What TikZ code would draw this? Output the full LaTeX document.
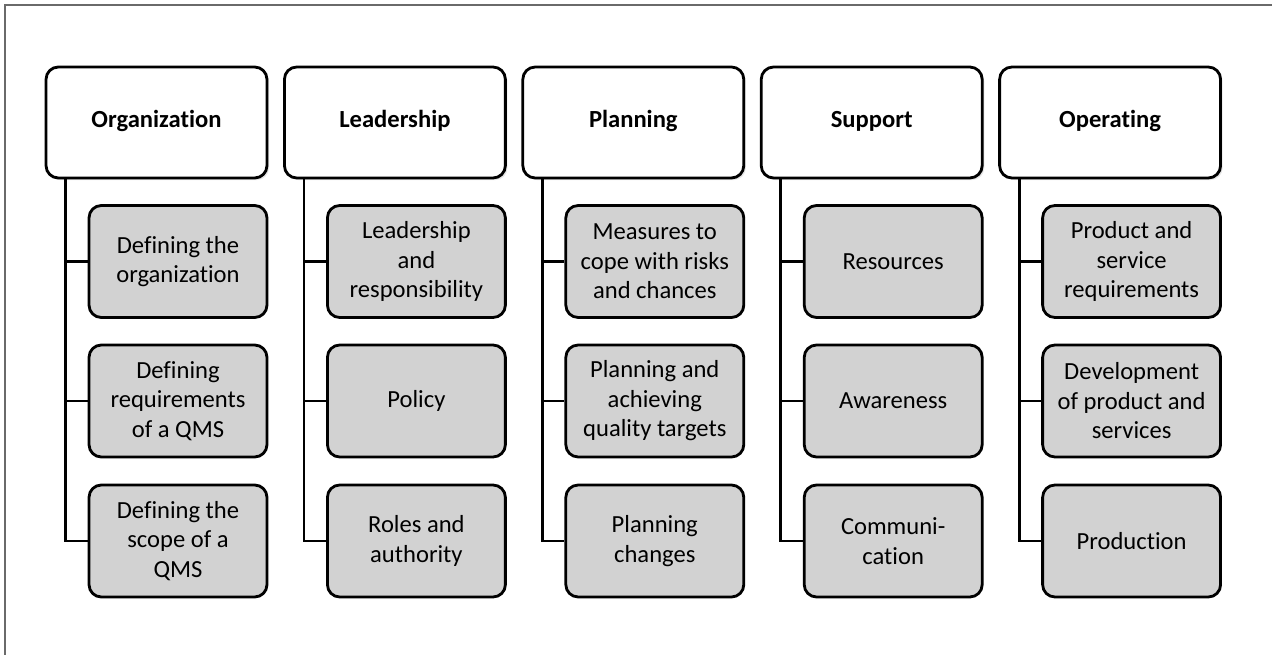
\documentclass[tikz,border=0pt]{standalone}
\usepackage{fontspec}
\setmainfont{Carlito}[Ligatures=NoCommon]
\usetikzlibrary{shadows}
\definecolor{boxgray}{HTML}{D2D2D2}
\definecolor{framegray}{HTML}{6A6A6A}
\tikzset{
  head/.style={draw,line width=1.6pt,rounded corners=7pt,fill=white,
    minimum width=4.42cm,minimum height=2.22cm,font=\fontsize{14}{16.8}\selectfont\bfseries,
    text height=1.6ex,text depth=0.5ex,
    drop shadow={opacity=0.2,shadow xshift=1.2pt,shadow yshift=-1.2pt}},
  item/.style={draw,line width=1.6pt,rounded corners=7pt,fill=boxgray,
    minimum width=3.56cm,minimum height=2.24cm,align=center,
    font=\fontsize{14}{16.8}\selectfont},
  link/.style={line width=1.6pt},
  frame/.style={framegray,line width=1.2pt}
}
\begin{document}
\begin{tikzpicture}[x=0.02cm,y=-0.02cm]
  \useasboundingbox (0,0) rectangle (1272,655);
  \draw[frame] (5,655) -- (5,5) -- (1272,5);
  \foreach \name/\ta/\tb/\tc [count=\i] in {
    Organization/{Defining the\\organization}/{Defining\\requirements\\of a QMS}/{Defining the\\scope of a\\QMS},
    Leadership/{Leadership\\and\\responsibility}/{Policy}/{Roles and\\authority},
    Planning/{Measures to\\cope with risks\\and chances}/{Planning and\\achieving\\quality targets}/{Planning\\changes},
    Support/{Resources}/{Awareness}/{Communi-\\cation},
    Operating/{Product and\\service\\requirements}/{Development\\of product and\\services}/{Production}}{
    \node[head] (h\i) at ({156.5+238.4*(\i-1)},122.5) {\name};
    \node[item] (s\i1) at ({178+238.4*(\i-1)},261.5) {\ta};
    \node[item] (s\i2) at ({178+238.4*(\i-1)},401) {\tb};
    \node[item] (s\i3) at ({178+238.4*(\i-1)},541) {\tc};
    \coordinate (t\i) at ([xshift=0.42cm]h\i.south west);
    \draw[link] (t\i) |- (s\i3.west);
    \draw[link] (t\i |- s\i1.west) -- (s\i1.west);
    \draw[link] (t\i |- s\i2.west) -- (s\i2.west);
  }
\end{tikzpicture}
\end{document}
